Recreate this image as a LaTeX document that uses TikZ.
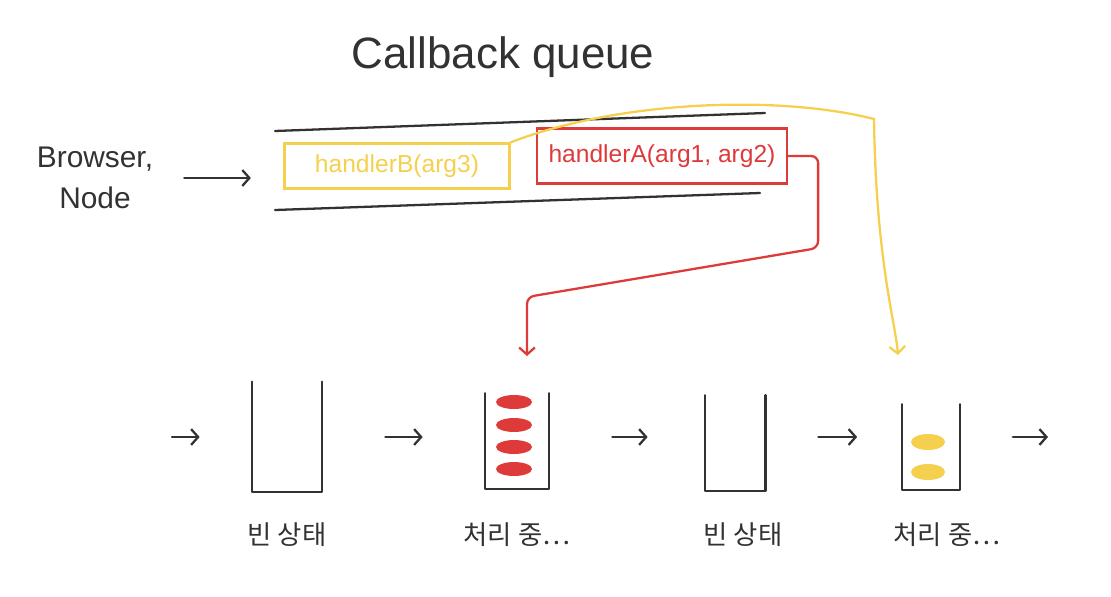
\documentclass[tikz,border=0pt]{standalone}
\usepackage{fontspec}
\setmainfont{Liberation Sans}
\newfontfamily\krfont{Noto Sans CJK KR}
\usepackage{xcolor}
\usetikzlibrary{arrows.meta,positioning}
\definecolor{inkgray}{RGB}{50,50,50}
\definecolor{hlred}{RGB}{222,58,58}
\definecolor{hlyellow}{RGB}{244,208,78}

\begin{document}
\begin{tikzpicture}[
    x=0.02cm, y=-0.02cm,
    pen/.style={draw=inkgray, line width=1.3pt, line cap=round, line join=round},
    handler/.style={rectangle, line width=1.3pt, inner sep=0pt, font=\fontsize{14}{16}\selectfont},
    bucket/.style={rectangle, minimum width=1.28cm, minimum height=1.9cm, inner sep=0pt},
    statetext/.style={font=\krfont\fontsize{15}{18}\selectfont, text=inkgray},
    arrow/.style={->, line width=1.3pt, line cap=round, >={Straight Barb[length=4pt,width=9pt]}},
]
    \useasboundingbox (0,0) rectangle (1111,596);

    % Title and source
    \node[font=\fontsize{25}{30}\selectfont, text=inkgray] (title) at (503,57) {Callback queue};
    \node[align=center, font=\fontsize{17}{23}\selectfont, text=inkgray] (source) at (95,178) {Browser,\\Node};

    % Queue walls
    \coordinate (qtl) at (275,131);
    \coordinate (qtr) at (765,113);
    \coordinate (qbl) at (275,210);
    \coordinate (qbr) at (760,193);
    \draw[pen] (qtl) -- (qtr);
    \draw[pen] (qbl) -- (qbr);

    % Handlers in the queue
    \node[handler, draw=hlyellow, text=hlyellow, minimum width=4.5cm, minimum height=0.9cm] (hB) at (397,166) {handlerB(arg3)};
    \node[handler, draw=hlred, text=hlred, minimum width=5cm, minimum height=1.1cm] (hA) at (662,156) {handlerA(arg1, arg2)};

    \draw[arrow, inkgray, shorten <=0.5cm, shorten >=0.65cm] (source.east) -- (source.east -| hB.west);

    % Buckets
    \node[bucket, minimum width=1.4cm, minimum height=2.2cm] (b1) at (287,437) {};
    \node[bucket] (b2) at (517,441) {};
    \node[bucket, minimum width=1.2cm] (b3) at (735,443) {};
    \node[bucket, minimum width=1.14cm, minimum height=1.7cm] (b4) at (931,447) {};
    \foreach \b in {b1,b2,b3,b4}
        \draw[pen] (\b.north west) -- (\b.south west) -- (\b.south east) -- (\b.north east);

    % Contents
    \foreach \y in {402,425,447,469}
        \fill[hlred] (514,\y) ellipse [x radius=0.36cm, y radius=0.14cm];
    \foreach \y in {442,472}
        \fill[hlyellow] (928,\y) ellipse [x radius=0.34cm, y radius=0.16cm];

    \node[statetext, below=0.48cm of b1] (s1) {빈 상태};
    \node[statetext, below=0.56cm of b2] (s2) {처리 중…};
    \node[statetext, below=0.52cm of b3, xshift=0.16cm] (s3) {빈 상태};
    \node[statetext, below=0.54cm of b4, xshift=0.32cm] (s4) {처리 중…};

    % Flow between buckets
    \coordinate (flow) at (0,437);
    \coordinate (in) at (172,437);
    \coordinate (out) at (1048,437);
    \draw[arrow, inkgray, shorten >=1.04cm] (in) -- (b1.west |- flow);
    \draw[arrow, inkgray, shorten <=1.26cm, shorten >=1.24cm] (b1.east |- flow) -- (b2.west |- flow);
    \draw[arrow, inkgray, shorten <=1.26cm, shorten >=1.14cm] (b2.east |- flow) -- (b3.west |- flow);
    \draw[arrow, inkgray, shorten <=1.06cm, shorten >=0.9cm] (b3.east |- flow) -- (b4.west |- flow);
    \draw[arrow, inkgray, shorten <=1.06cm] (b4.east |- flow) -- (out);

    % Dispatch
    \coordinate (rdrop) at (527,356);
    \coordinate (ydrop) at (898,355);
    \draw[arrow, hlred, rounded corners=4pt] (hA.east) -- ++(30,0) -- ++(0,92) -- (527,297) -- (rdrop);
    \draw[arrow, hlyellow] (hB.north east) .. controls (620,100) and (780,95) .. (874,119)
        .. controls (876,260) and (895,320) .. (ydrop);
\end{tikzpicture}
\end{document}
